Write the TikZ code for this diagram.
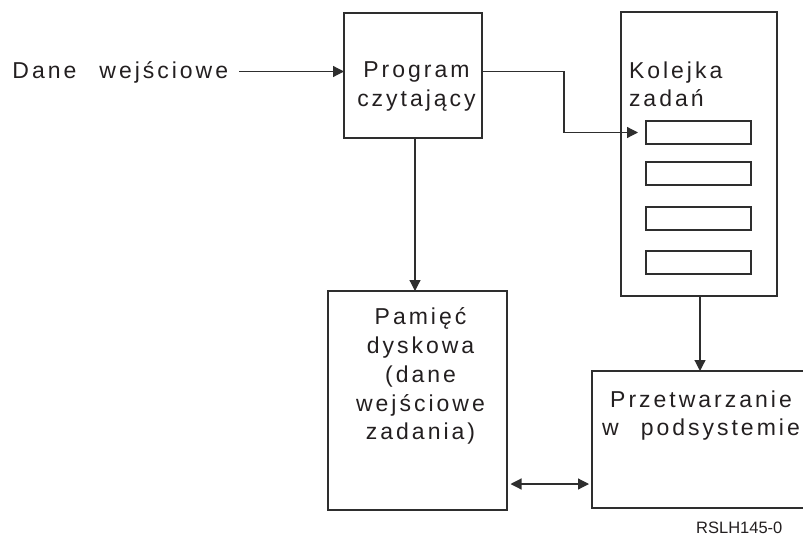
\documentclass[tikz,border=0pt]{standalone}
\usepackage{fontspec}
\setmainfont[LetterSpace=13]{Liberation Sans}
\newfontfamily\plainsans{Liberation Sans}
\usetikzlibrary{arrows.meta}
\definecolor{linec}{HTML}{2E2E2E}
\definecolor{txtc}{HTML}{231F20}
\begin{document}
\begin{tikzpicture}[x=1pt,y=-1pt,
  box/.style={draw=linec, line width=1.2pt, inner sep=0pt, outer sep=0pt},
  lbl/.style={font=\fontsize{23}{28.7}\selectfont, text=txtc, inner sep=0pt, outer sep=0pt},
  tip/.style={Triangle[length=11pt,width=11pt]},
  arr/.style={draw=linec, line width=1.2pt, -{Triangle[length=11pt,width=11pt]}},
  darr/.style={draw=linec, line width=1.2pt, {Triangle[length=11pt,width=11pt]}-{Triangle[length=11pt,width=11pt]}}
]
\useasboundingbox (0,0) rectangle (803,535);
\clip (0,0) rectangle (803,535);
% boxes
\node[box, minimum width=138pt, minimum height=125pt] (prog) at (413,75.5) {};
\node[box, minimum width=156pt, minimum height=284pt] (queue) at (699,154) {};
\node[box, minimum width=105pt, minimum height=23pt] (s1) at (698.5,132.5) {};
\node[box, minimum width=105pt, minimum height=23pt] (s2) at (698.5,173.5) {};
\node[box, minimum width=105pt, minimum height=23pt] (s3) at (698.5,218.5) {};
\node[box, minimum width=105pt, minimum height=23pt] (s4) at (698.5,262.5) {};
\node[box, minimum width=179pt, minimum height=219pt] (pam) at (417.5,400.5) {};
\node[box, minimum width=223pt, minimum height=137pt] (proc) at (703.5,439.5) {};
% texts
\node[lbl, anchor=base west] (dane) at (12.5,78) {Dane\hspace{23pt}wejściowe};
\node[lbl, anchor=north, align=center] (progt) at (416.5,61.5) {Program\\czytający};
\node[lbl, anchor=north west, align=left] (queuet) at (629,61.5) {Kolejka\\zadań};
\node[lbl, anchor=north, align=center] (pamt) at (420.5,308) {Pamięć\\dyskowa\\(dane\\wejściowe\\zadania)};
\node[lbl, anchor=north, align=center] (proct) at (701,390.5) {Przetwarzanie\\w\hspace{22pt}podsystemie};
\node[font=\plainsans\fontsize{16.5}{18}\selectfont, text=txtc, inner sep=0pt, anchor=base west] (code) at (696,533) {RSLH145-0};
% connectors
\coordinate (yin) at (0,71.5);
\coordinate (ydisk) at (0,484);
\coordinate (din) at (239,71.5);
\draw[arr] (din) -- (din -| prog.west);
\draw[arr, shorten >=8pt] (prog.east |- yin) -- (564,71.5) |- (s1.west);
\draw[arr] (prog.south -| 415,0) -- (pam.north -| 415,0);
\draw[arr] (queue.south -| 700,0) -- (proc.north -| 700,0);
\draw[darr, shorten <=3.5pt, shorten >=3pt] (pam.east |- ydisk) -- (proc.west |- ydisk);
\end{tikzpicture}
\end{document}
